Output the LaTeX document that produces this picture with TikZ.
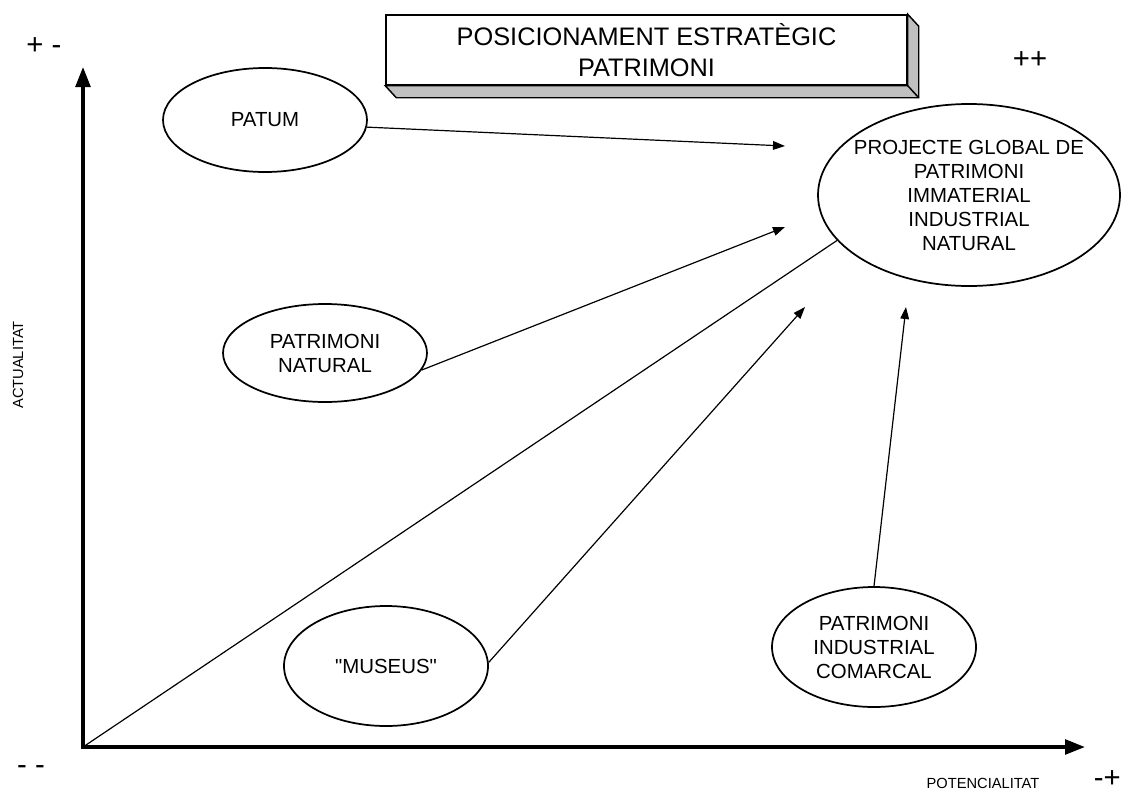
\documentclass[tikz,border=0pt]{standalone}
\usepackage{fontspec}
\setmainfont{Liberation Sans}[Ligatures=TeXOff]
\usetikzlibrary{shapes.geometric,arrows.meta}

\definecolor{boxside}{RGB}{192,192,192}

\tikzset{
	elip/.style={draw, ellipse, line width=1.3pt, inner sep=0pt, align=center, font=\fontsize{15.3}{18}\selectfont},
	conn/.style={line width=0.9pt, -{Triangle[length=9pt,width=6.5pt]}},
	axis/.style={line width=2.6pt, {Triangle[length=15pt,width=11pt]}-{Triangle[length=15pt,width=11pt]}},
	sign/.style={inner sep=0pt, font=\fontsize{22}{22}\selectfont},
	lbl/.style={inner sep=0pt, font=\fontsize{11}{12}\selectfont}
}

\begin{document}
\begin{tikzpicture}[x=0.75pt,y=0.75pt,yscale=-1,xscale=1]
	\path (0,0) rectangle (1127,796); %page size
	
	%Shape: Box with depth
	\node [draw, fill=white, line width=1.1pt, minimum width=390.75pt, minimum height=52.5pt, inner sep=0pt, align=center, font=\fontsize{19}{23}\selectfont] (title) at (646.5,50) {POSICIONAMENT ESTRATÈGIC\\PATRIMONI};
	\draw [line width=1.1pt, fill=boxside] (title.south west) -- ++(11,12) -- ([shift={(11,12)}]title.south east) -- ([shift={(11,12)}]title.north east) -- (title.north east) -- (title.south east) -- cycle ;
	\draw [line width=1.1pt] (title.south east) -- ++(11,12) ;
	
	%Shape: Axes
	\coordinate (origin) at (83,747);
	\coordinate (ytip) at (83,67);
	\coordinate (xtip) at (1085,747);
	\draw [axis] (ytip) -- (origin) -- (xtip) ;
	
	%Shape: Ellipse
	\node [elip, minimum width=153pt, minimum height=78pt] (patum) at (265,120) {PATUM};
	%Shape: Ellipse
	\node [elip, minimum width=153pt, minimum height=73.5pt] (natural) at (325,353) {PATRIMONI\\NATURAL};
	%Shape: Ellipse
	\node [elip, minimum width=153pt, minimum height=90pt] (museus) at (386,666) {"MUSEUS"};
	%Shape: Ellipse
	\node [elip, minimum width=153pt, minimum height=90pt] (industrial) at (874,647) {PATRIMONI\\INDUSTRIAL\\COMARCAL};
	%Shape: Ellipse
	\node [elip, inner xsep=-8pt, minimum width=226.5pt, minimum height=136.5pt] (global) at (969,195) {PROJECTE GLOBAL DE\\PATRIMONI\\IMMATERIAL\\INDUSTRIAL\\NATURAL};
	
	%Arrow ends
	\coordinate (tipPatum) at (785,146);
	\coordinate (tipNatural) at (785,227);
	\coordinate (tipMuseus) at (805,307);
	\coordinate (tipIndustrial) at (906,307);
	
	\draw [conn] (patum.-4) -- (tipPatum) ;
	\draw [conn] (natural.-10) -- (tipNatural) ;
	\draw [line width=0.9pt] (origin) -- (global.199) ;
	\draw [conn] (museus.2) -- (tipMuseus) ;
	\draw [conn] (industrial.north) -- (tipIndustrial) ;
	
	% Text Node
	\node [sign] (pm) at (44,46) {+ -};
	% Text Node
	\node [sign] (pp) at (1030,60) {++};
	% Text Node
	\node [sign] (mm) at (31,770) {- -};
	% Text Node
	\node [sign, anchor=east] (mp) at (1121,779) {-+};
	% Text Node
	\node [lbl] (potencialitat) at (983,783) {POTENCIALITAT};
	% Text Node
	\node [lbl, rotate=90] (actualitat) at (18,365) {ACTUALITAT};
	
\end{tikzpicture}
\end{document}
